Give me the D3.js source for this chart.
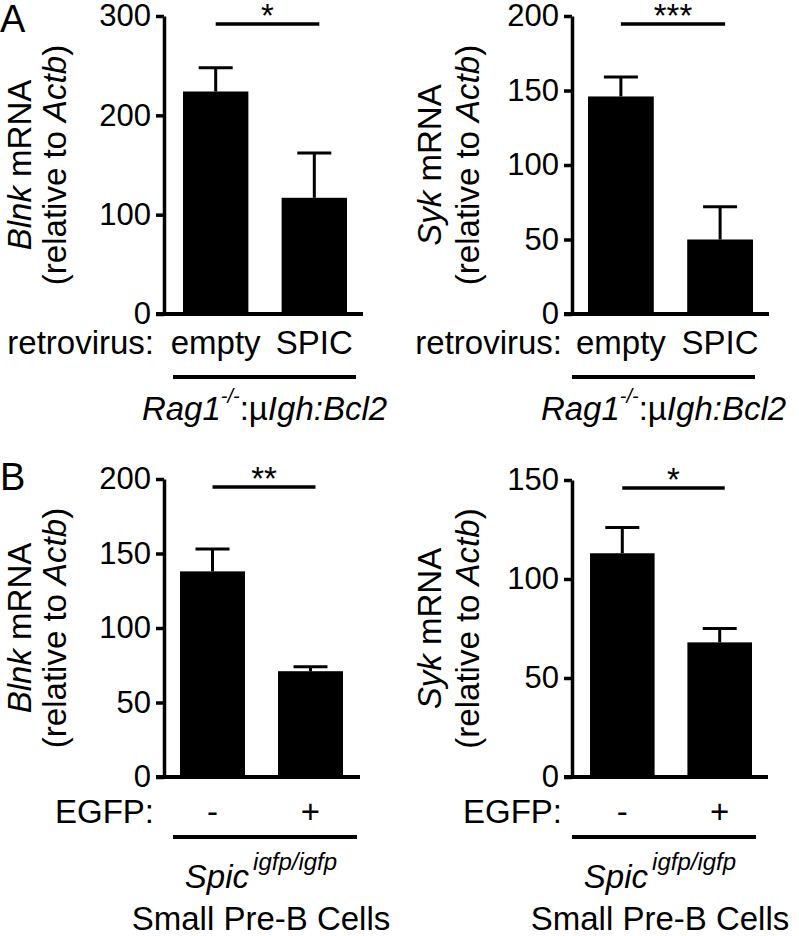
<!DOCTYPE html>
<html>
<head>
<meta charset="utf-8">
<script src="https://cdn.jsdelivr.net/npm/d3@7"></script>
<style>
  body { margin: 0; background: #fff; }
  svg { display: block; font-family: "Liberation Sans", Arial, sans-serif; }
</style>
</head>
<body>
<script>
// groups on the x axis
const groupsA = ["empty", "SPIC"];
const groupsB = ["-", "+"];

// means (bar heights) and SEM (upper error bar)
const blnkA = [224, 117];
const blnkASem = [24, 45];
const sykA = [146, 50];
const sykASem = [13, 22];
const blnkB = [138, 71];
const blnkBSem = [15, 3];
const sykB = [113, 68];
const sykBSem = [13, 7];

// y tick values
const blnkATicks = [0, 100, 200, 300];
const sykATicks = [0, 50, 100, 150, 200];
const blnkBTicks = [0, 50, 100, 150, 200];
const sykBTicks = [0, 50, 100, 150];

// significance labels
const sigLabels = ["*", "***", "**", "*"];

const W = 799, H = 936;
const svg = d3.select("body").append("svg").attr("width", W).attr("height", H);

const FS = 33;

function drawPanel(p) {
	const g = svg.append("g");

	const y = d3.scaleLinear()
		.domain([0, d3.max(p.ticks)])
		.range([p.yBot, p.yTop]);

	const x = d3.scaleBand()
		.domain(p.groups)
		.range([p.barX0, p.barX1])
		.paddingInner(0.337)
		.paddingOuter(0);

	// y axis
	const yAxis = g.append("g")
		.attr("transform", `translate(${p.x0},0)`)
		.call(d3.axisLeft(y).tickValues(p.ticks).tickSize(8).tickSizeOuter(0).tickPadding(5));
	yAxis.select(".domain").attr("stroke", "#000").attr("stroke-width", 3.5);
	yAxis.selectAll(".tick line").attr("stroke", "#000").attr("stroke-width", 3.5);
	yAxis.selectAll(".tick text")
		.attr("fill", "#000")
		.attr("font-size", 31)
		.attr("font-family", "Liberation Sans, Arial, sans-serif");

	// x axis baseline
	g.append("line")
		.attr("x1", p.x0 - 8).attr("x2", p.xEnd)
		.attr("y1", y(0)).attr("y2", y(0))
		.attr("stroke", "#000").attr("stroke-width", 4);

	// bars
	g.selectAll("rect.bar")
		.data(p.values)
		.join("rect")
		.attr("class", "bar")
		.attr("x", (d, i) => x(p.groups[i]))
		.attr("width", x.bandwidth())
		.attr("y", (d) => y(d))
		.attr("height", (d) => y(0) - y(d))
		.attr("fill", "#000");

	// error bars (upper only)
	const cx = (i) => x(p.groups[i]) + x.bandwidth() / 2;
	p.values.forEach((v, i) => {
		const top = y(v + p.sem[i]);
		g.append("line")
			.attr("x1", cx(i)).attr("x2", cx(i))
			.attr("y1", y(v)).attr("y2", top)
			.attr("stroke", "#000").attr("stroke-width", 3);
		g.append("line")
			.attr("x1", cx(i) - 17).attr("x2", cx(i) + 17)
			.attr("y1", top).attr("y2", top)
			.attr("stroke", "#000").attr("stroke-width", 3);
	});

	// significance bar
	const sy = p.yTop + 8;
	g.append("line")
		.attr("x1", cx(0)).attr("x2", cx(1) + 5)
		.attr("y1", sy).attr("y2", sy)
		.attr("stroke", "#000").attr("stroke-width", 3.5);
	g.append("text")
		.attr("x", (cx(0) + cx(1) + 5) / 2)
		.attr("y", sy + 3)
		.attr("text-anchor", "middle")
		.attr("font-size", FS)
		.text(p.sig);

	// y axis title, two lines
	const yc = (p.yTop + p.yBot) / 2;
	const t1 = g.append("text")
		.attr("transform", `translate(${p.lab1X},${yc}) rotate(-90)`)
		.attr("text-anchor", "middle")
		.attr("font-size", FS);
	t1.append("tspan").attr("font-style", "italic").text(p.gene);
	t1.append("tspan").text(" mRNA");
	const t2 = g.append("text")
		.attr("transform", `translate(${p.lab2X},${yc}) rotate(-90)`)
		.attr("text-anchor", "middle")
		.attr("font-size", FS);
	t2.append("tspan").text("(relative to ");
	t2.append("tspan").attr("font-style", "italic").text("Actb");
	t2.append("tspan").text(")");

	// group labels under bars
	g.selectAll("text.cat")
		.data(p.groups)
		.join("text")
		.attr("class", "cat")
		.attr("x", (d) => x(d) + x.bandwidth() / 2)
		.attr("y", p.catY)
		.attr("text-anchor", "middle")
		.attr("font-size", FS)
		.text((d) => d);

	g.append("text")
		.attr("x", p.x0 - 10)
		.attr("y", p.catY)
		.attr("text-anchor", "end")
		.attr("font-size", FS)
		.text(p.rowLabel);

	// underline
	g.append("line")
		.attr("x1", p.ul0).attr("x2", p.ul1)
		.attr("y1", p.ulY).attr("y2", p.ulY)
		.attr("stroke", "#000").attr("stroke-width", 4);

	return (p.ul0 + p.ul1) / 2;
}

function ragLabel(cx, yb) {
	const t = svg.append("text")
		.attr("x", cx).attr("y", yb)
		.attr("text-anchor", "middle")
		.attr("font-size", FS);
	t.append("tspan").attr("font-style", "italic").text("Rag1");
	t.append("tspan").attr("font-style", "italic").attr("font-size", 20).attr("dy", -17).text("-/-");
	t.append("tspan").attr("dy", 17).text(":\u00b5");
	t.append("tspan").attr("font-style", "italic").text("Igh:Bcl2");
}

function spicLabel(cx, yb) {
	const t = svg.append("text")
		.attr("x", cx).attr("y", yb)
		.attr("text-anchor", "middle")
		.attr("font-size", FS)
		.attr("font-style", "italic");
	t.append("tspan").text("Spic");
	t.append("tspan").attr("font-size", 24).attr("dx", 4).attr("dy", -18).text("igfp/igfp");
	svg.append("text")
		.attr("x", cx).attr("y", yb + 42)
		.attr("text-anchor", "middle")
		.attr("font-size", FS)
		.text("Small Pre-B Cells");
}

const c1 = drawPanel({
	groups: groupsA, values: blnkA, sem: blnkASem, ticks: blnkATicks, sig: sigLabels[0],
	gene: "Blnk", rowLabel: "retrovirus:",
	x0: 164, yTop: 16, yBot: 314, xEnd: 363, barX0: 183, barX1: 347,
	lab1X: 31, lab2X: 66, catY: 354, ul0: 173, ul1: 356, ulY: 377
});
const c2 = drawPanel({
	groups: groupsA, values: sykA, sem: sykASem, ticks: sykATicks, sig: sigLabels[1],
	gene: "Syk", rowLabel: "retrovirus:",
	x0: 572, yTop: 16, yBot: 314, xEnd: 769, barX0: 588, barX1: 753,
	lab1X: 441, lab2X: 479, catY: 354, ul0: 572, ul1: 755, ulY: 377
});
const c3 = drawPanel({
	groups: groupsB, values: blnkB, sem: blnkBSem, ticks: blnkBTicks, sig: sigLabels[2],
	gene: "Blnk", rowLabel: "EGFP:",
	x0: 164, yTop: 479, yBot: 777, xEnd: 360, barX0: 180, barX1: 343,
	lab1X: 31, lab2X: 66, catY: 823, ul0: 173, ul1: 357, ulY: 837
});
const c4 = drawPanel({
	groups: groupsB, values: sykB, sem: sykBSem, ticks: sykBTicks, sig: sigLabels[3],
	gene: "Syk", rowLabel: "EGFP:",
	x0: 572, yTop: 480, yBot: 777, xEnd: 768, barX0: 590, barX1: 752,
	lab1X: 441, lab2X: 479, catY: 823, ul0: 572, ul1: 756, ulY: 837
});

ragLabel(c1, 420);
ragLabel(c2, 420);
spicLabel(c3 - 4, 888);
spicLabel(c4 - 4, 888);

// panel letters
svg.append("text").attr("x", 0).attr("y", 32).attr("font-size", 38).text("A");
svg.append("text").attr("x", 0).attr("y", 490).attr("font-size", 38).text("B");
</script>
</body>
</html>
